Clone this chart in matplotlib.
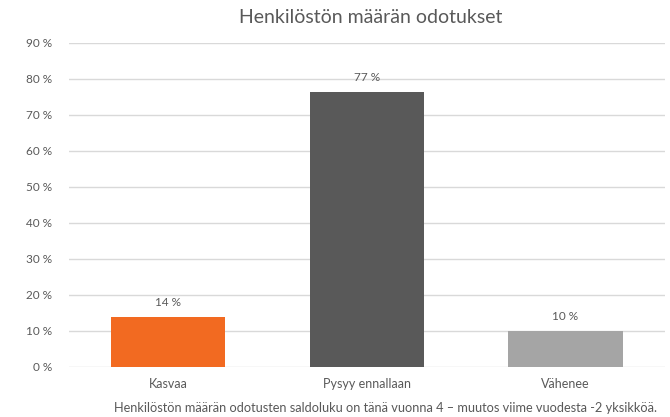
import matplotlib.pyplot as plt
import numpy as np

plt.rcParams['font.family'] = ['Lato', 'DejaVu Sans']

categories = ['Kasvaa', 'Pysyy ennallaan', 'Vähenee']
values = [13.9, 76.5, 10.0]
labels = ['14 %', '77 %', '10 %']
colors = ['#F26A21', '#595959', '#A5A5A5']
yticks = [0, 10, 20, 30, 40, 50, 60, 70, 80, 90]

txt = '#595959'

fig = plt.figure(figsize=(6.7, 4.17), dpi=100)
ax = fig.add_axes([0.103, 0.12, 0.889, 0.777])

x = np.arange(len(categories))
ax.bar(x, values, width=0.576, color=colors, zorder=3)

# value labels above the bars
for xi, v, lab in zip(x, values, labels):
    ax.text(xi, v + 2.5, lab, ha='center', va='bottom', fontsize=8.5, color=txt)

ax.set_xlim(-0.5, 2.5)
ax.set_ylim(0, 90)
ax.set_yticks(yticks)
ax.set_yticklabels([f'{t} %' for t in yticks], fontsize=8.5, color=txt)
ax.set_xticks(x)
ax.set_xticklabels(categories, fontsize=9, color=txt)
ax.tick_params(length=0, pad=12)
ax.tick_params(axis='x', pad=8)
ax.grid(axis='y', color='#D9D9D9', linewidth=1, zorder=0)
for s in ax.spines.values():
    s.set_visible(False)

fig.text(0.553, 0.957, 'Henkilöstön määrän odotukset', ha='center', va='center',
         fontsize=14, color=txt)
fig.text(0.575, 0.022, 'Henkilöstön määrän odotusten saldoluku on tänä vuonna 4 – muutos viime vuodesta -2 yksikköä.',
         ha='center', va='center', fontsize=9.2, color=txt)

fig.savefig('out.png', dpi=100)
